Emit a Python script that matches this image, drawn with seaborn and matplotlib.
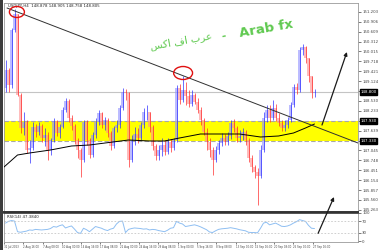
import numpy as np
import pandas as pd
import matplotlib
matplotlib.use("Agg")
import matplotlib.pyplot as plt
import matplotlib.transforms as mtransforms
from matplotlib.patches import Ellipse, Rectangle
import seaborn as sns

# ---------------- data ----------------
first_open = 148.92
closes = [149.46, 149.01, 150.66, 151.14, 148.71, 147.72, 147.90, 147.06, 147.12, 147.75,
          147.60, 147.78, 147.42, 147.51, 147.06, 147.36, 147.93, 147.57, 147.75, 148.26,
          148.53, 148.02, 147.78, 147.36, 147.06, 146.76, 147.90, 147.36, 146.91, 147.51,
          147.90, 148.17, 147.81, 147.96, 147.57, 147.18, 147.72, 147.81, 148.32, 148.80,
          148.77, 146.76, 147.36, 147.54, 147.42, 147.81, 148.20, 148.20, 147.75, 147.18,
          146.88, 147.06, 147.21, 147.00, 147.30, 147.12, 147.36, 148.92, 148.56, 148.86,
          148.68, 148.44, 148.71, 148.50, 148.26, 147.96, 147.60, 147.30, 147.06, 146.76,
          147.06, 147.27, 147.42, 147.30, 147.48, 147.87, 147.72, 147.42, 147.48, 147.60,
          147.36, 146.82, 146.55, 146.40, 146.28, 147.06, 148.02, 148.26, 148.02, 148.32,
          148.02, 147.87, 147.72, 147.81, 147.96, 148.41, 148.95, 148.86, 150.06, 150.15,
          149.82, 149.28, 148.77, 148.80]
highs = [149.76, 149.52, 150.72, 151.29, 151.14, 148.77, 148.20, 147.96, 147.36, 147.90,
         147.84, 147.90, 147.84, 147.72, 147.60, 147.42, 148.02, 147.96, 147.84, 148.35,
         148.62, 148.59, 148.11, 147.84, 147.42, 147.12, 147.96, 147.96, 147.42, 147.60,
         148.02, 148.26, 148.20, 148.05, 148.02, 147.63, 147.78, 147.96, 148.41, 148.92,
         148.89, 148.80, 147.51, 147.75, 147.72, 147.90, 148.32, 148.41, 148.20, 147.81,
         147.24, 147.21, 147.42, 147.36, 147.42, 147.39, 147.42, 149.01, 149.04, 149.28,
         149.10, 148.86, 148.86, 148.77, 148.62, 148.35, 148.02, 147.72, 147.42, 147.15,
         147.18, 147.36, 147.57, 147.54, 147.60, 147.96, 147.99, 147.78, 147.66, 147.72,
         147.66, 147.42, 146.91, 146.61, 146.52, 147.21, 148.20, 148.41, 148.41, 148.56,
         148.44, 148.17, 147.96, 147.96, 148.05, 148.50, 149.04, 149.07, 150.15, 150.24,
         150.18, 149.82, 149.28, 148.89]
lows = [148.80, 148.80, 148.92, 150.60, 148.68, 147.57, 147.51, 146.97, 146.67, 147.06,
        147.45, 147.51, 147.30, 147.18, 146.76, 146.91, 147.30, 147.48, 147.42, 147.72,
        148.20, 147.90, 147.66, 147.24, 146.82, 146.25, 146.70, 147.21, 146.82, 146.85,
        147.42, 147.81, 147.72, 147.66, 147.45, 147.06, 147.12, 147.60, 147.72, 148.26,
        148.56, 146.55, 146.70, 147.21, 147.27, 147.36, 147.72, 147.96, 147.60, 147.06,
        146.76, 146.76, 146.88, 146.91, 146.94, 147.00, 147.06, 147.30, 148.44, 148.50,
        148.41, 148.35, 148.38, 148.44, 148.17, 147.81, 147.51, 147.06, 146.85, 146.31,
        146.70, 146.94, 147.18, 147.21, 147.21, 147.39, 147.60, 147.30, 147.30, 147.36,
        147.21, 146.70, 146.40, 146.22, 145.41, 146.22, 147.00, 147.90, 147.90, 147.96,
        147.93, 147.78, 147.63, 147.63, 147.72, 147.90, 148.35, 148.74, 148.80, 149.91,
        149.67, 149.10, 148.62, 148.65]
rsi_values = [63, 69, 72, 70, 33, 31, 33, 35, 39, 38, 41, 40, 39, 40, 41, 44, 51, 49, 54, 57,
              46, 50, 53, 42, 30, 27, 45, 40, 33, 42, 51, 48, 45, 40, 37, 42, 45, 60, 69, 70,
              30, 41, 44, 46, 45, 44, 42, 43, 39, 41, 40, 37, 35, 33, 38, 45, 47, 69, 63, 60,
              51, 53, 55, 57, 54, 50, 45, 40, 32, 30, 36, 41, 43, 44, 45, 47, 45, 43, 40, 38,
              36, 31, 30, 30, 29, 45, 63, 66, 57, 60, 63, 58, 52, 51, 53, 57, 63, 68, 75, 72,
              69, 55, 45, 44]
ma_bars = [-0.5, 4, 8, 15, 22, 28, 41, 48, 53, 58, 65, 71, 78, 85, 91, 96, 100, 103]
ma_values = [146.55, 146.91, 146.97, 147.06, 147.18, 147.21, 147.36, 147.33, 147.33, 147.42,
             147.54, 147.54, 147.54, 147.45, 147.48, 147.57, 147.72, 147.84]
trend_bars = [0.5, 117.5]
trend_prices = [151.32, 147.27]
band_top = 147.93
band_bottom = 147.33
current_price = 148.80
circle_bars = [3.8, 59.2]
circle_prices = [151.20, 149.37]
date_labels = ["31 Jul 2023", "2 Aug 16:00", "7 Aug 08:00", "10 Aug 00:00", "14 Aug 16:00",
               "17 Aug 08:00", "22 Aug 00:00", "24 Aug 16:00", "29 Aug 08:00", "1 Sep 00:00",
               "5 Sep 16:00", "8 Sep 08:00", "13 Sep 00:00", "15 Sep 16:00", "20 Sep 08:00",
               "25 Sep 00:00", "27 Sep 16:00"]
header = "USDJPY,H4  148.878 148.905 148.758 148.805"
rsi_header = "RSI(14) 47.3840"
rsi_levels = [70, 30]
rsi_ticks = [100, 70, 30, 0]
watermark_ar = "\uFEB2\uFEDB\uFE8D \uFED1\uFE8D \uFE8F\uFEAE\uFECB"   # عرب اف اكس (shaped)
watermark_en = "Arab fx"

# ---------------- figure ----------------
sns.set_theme(style="white")
plt.rcParams["font.family"] = ["DejaVu Sans"]

W, H = 385, 250
fig = plt.figure(figsize=(W / 100, H / 100), dpi=100)
fig.patch.set_facecolor("white")

def fx(px):
    return px / W

def fy(py):
    return 1 - py / H

ax = fig.add_axes([fx(4), fy(212), fx(358) - fx(4), fy(3) - fy(212)])
rax = fig.add_axes([fx(4), fy(242), fx(358) - fx(4), fy(212.5) - fy(242)])

n = len(closes)
bars = np.arange(n)
opens = [first_open] + closes[:-1]
df = pd.DataFrame({"bar": bars, "open": opens, "close": closes, "high": highs, "low": lows})
up = df["close"] >= df["open"]

# yellow zone
ax.axhspan(band_bottom, band_top, color="#ffff00", zorder=0.5, lw=0)
for lvl in (band_top, band_bottom):
    ax.axhline(lvl, color="#a8a8a8", ls=(0, (4, 2)), lw=0.8, zorder=0.6)
ax.axhline(current_price, color="#c4c4c4", lw=0.8, zorder=0.6)

# candles
for mask, dark, light in ((up, "#2424ff", "#9090ff"), (~up, "#ff2020", "#ff9090")):
    d = df[mask]
    ax.bar(d["bar"], (d["close"] - d["open"]).abs().clip(lower=0.01),
           bottom=np.minimum(d["open"], d["close"]), width=0.8, color=light,
           alpha=0.6, lw=0, zorder=2)
    ax.vlines(d["bar"], d["low"], d["high"], color=dark, lw=0.55, alpha=0.85, zorder=3)

# moving average and trend line
sns.lineplot(x=ma_bars, y=ma_values, ax=ax, color="black", lw=0.7, zorder=4)
sns.lineplot(x=trend_bars, y=trend_prices, ax=ax, color="#303030", lw=0.7, zorder=4)

# red circles
for b, p, w, h in zip(circle_bars, circle_prices, [5.0, 6.3], [0.33, 0.39]):
    ax.add_patch(Ellipse((b, p), w, h, fill=False, edgecolor="#e01010", lw=1.0, zorder=5))

highlights = (current_price, band_top, band_bottom)
ax.set_xlim(-0.5, 117.5)
ax.set_xticks([])
ax.yaxis.tick_right()
price_ticks = [151.50 - 0.297 * k for k in range(22)]
ax.set_yticks(price_ticks)
ax.set_yticklabels([f"{t:.3f}" if min(abs(t - h) for h in highlights) > 0.2 else ""
                    for t in price_ticks])
ax.set_ylim(145.20, 151.47)
ax.tick_params(axis="y", labelsize=2.8, length=2, width=0.5, pad=1, colors="#444444",
               right=True, left=False)
ax.set_xlabel("")
ax.set_ylabel("")
for s in ax.spines.values():
    s.set_color("#9a9a9a")
    s.set_linewidth(0.6)
ax.spines["bottom"].set_color("#333333")
ax.spines["bottom"].set_linewidth(1.4)

ax.text(0.012, 0.997, header, transform=ax.transAxes, fontsize=2.8, va="top", ha="left",
        color="#222222")

tr = mtransforms.blended_transform_factory(ax.transAxes, ax.transData)
for p in highlights:
    ax.text(1.006, p, f"{p:.3f}", transform=tr, fontsize=2.8, color="white", va="center",
            ha="left", bbox=dict(facecolor="black", edgecolor="black", pad=0.4), zorder=10,
            clip_on=False)

# arrow in main panel
ax.annotate("", xy=(113.8, 150.0), xytext=(105.5, 147.81),
            arrowprops=dict(arrowstyle="-|>", color="#1a1a1a", lw=0.9,
                            mutation_scale=5, shrinkA=0, shrinkB=0),
            annotation_clip=False, zorder=6)

# RSI panel
sns.lineplot(x=bars, y=rsi_values, ax=rax, color="#8fbff2", lw=0.7)
for lvl in rsi_levels:
    rax.axhline(lvl, color="#c8c8c8", ls=(0, (2, 2)), lw=0.6)
rax.set_xlim(-0.5, 117.5)
rax.set_ylim(-3, 100)
rax.yaxis.tick_right()
rax.set_yticks(rsi_ticks)
rax.set_yticklabels([str(t) for t in rsi_ticks])
rax.tick_params(axis="y", labelsize=2.8, length=2, width=0.5, pad=1, colors="#444444",
                right=True, left=False)
date_pos = [-0.5 + 6.433 * k for k in range(len(date_labels))]
rax.set_xticks(date_pos)
rax.set_xticklabels(date_labels, ha="left")
rax.tick_params(axis="x", labelsize=1.9, length=1.5, width=0.5, pad=1, colors="#444444",
                bottom=True)
rax.set_xlabel("")
rax.set_ylabel("")
for s in rax.spines.values():
    s.set_color("#9a9a9a")
    s.set_linewidth(0.6)
rax.spines["top"].set_color("#333333")
rax.spines["top"].set_linewidth(1.2)
rax.text(0.008, 0.93, rsi_header, transform=rax.transAxes, fontsize=2.8, va="top",
         ha="left", color="#222222")

# second arrow crossing into the main panel
rax.annotate("", xy=(109.5, 145.65), xytext=(104.2, 144.56), xycoords=ax.transData,
             textcoords=ax.transData,
             arrowprops=dict(arrowstyle="-|>", color="#1a1a1a", lw=0.9,
                             mutation_scale=5, shrinkA=0, shrinkB=0, clip_on=False),
             annotation_clip=False, zorder=6)

# watermark text
green = "#5fc94f"
fig.text(fx(181), fy(41), watermark_ar, fontsize=7.5, color=green, rotation=10,
         ha="center", va="center", rotation_mode="anchor", family=["DejaVu Sans"])
fig.text(fx(224), fy(36), "-", fontsize=8, color=green, rotation=10, fontweight="bold",
         ha="center", va="center", rotation_mode="anchor")
fig.text(fx(266), fy(29), watermark_en, fontsize=9.5, color=green, rotation=10,
         fontweight="bold", ha="center", va="center", rotation_mode="anchor")

# dark window edge on the left
fig.patches.append(Rectangle((0, 0), fx(3), 1, transform=fig.transFigure,
                             facecolor="#3c3c3c", edgecolor="none", zorder=20))

fig.savefig("out.png", dpi=100, facecolor="white")
